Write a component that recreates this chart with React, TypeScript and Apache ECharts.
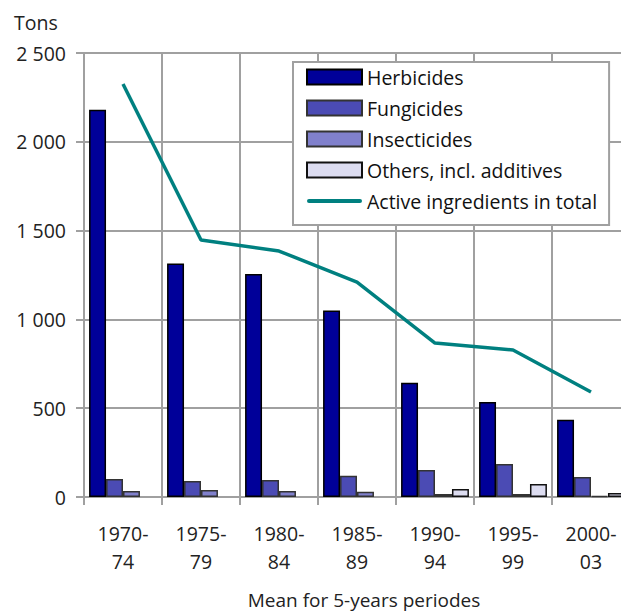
import React, { useEffect, useRef } from "react";
import * as echarts from "echarts";

const categories = ["1970-\n74", "1975-\n79", "1980-\n84", "1985-\n89", "1990-\n94", "1995-\n99", "2000-\n03"];
const herbicides = [2180, 1315, 1255, 1050, 643, 535, 435];
const fungicides = [101, 90, 96, 120, 152, 186, 113];
const insecticides = [34, 39, 34, 30, 17, 17, 5];
const others = [0, 0, 0, 0, 45, 73, 22];
const totals = [2325, 1447, 1385, 1210, 867, 828, 591];
const yTicks = [0, 500, 1000, 1500, 2000, 2500];

const FONT = "Open Sans";
const FS = 19.5;

function fmt(v: number): string {
  if (v >= 1000) {
    return `${Math.floor(v / 1000)} ${String(v % 1000).padStart(3, "0")}`;
  }
  return String(v);
}

const nz = (arr: number[]) => arr.map((v) => (v === 0 ? null : v));

export default function App() {
  const ref = useRef<HTMLDivElement>(null);
  useEffect(() => {
    if (!ref.current) return;
    const chart = echarts.init(ref.current, null, { renderer: "svg" });
    const barBase = {
      type: "bar" as const,
      barGap: "0%",
      barCategoryGap: "13%",
    };
    chart.setOption({
      animation: false,
      backgroundColor: "#ffffff",
      textStyle: { fontFamily: FONT },
      grid: { left: 84, top: 53, width: 546, height: 444, outerBoundsMode: "none" },
      legend: {
        orient: "vertical",
        left: 293,
        top: 62,
        padding: [4, 12, 13, 13],
        backgroundColor: "#ffffff",
        borderColor: "#a0a0a0",
        borderWidth: 2,
        itemWidth: 55,
        itemHeight: 15,
        itemGap: 9,
        icon: "rect",
        textStyle: { fontFamily: FONT, fontSize: FS, color: "#111", lineHeight: 22 },
        data: [
          { name: "Herbicides" },
          { name: "Fungicides" },
          { name: "Insecticides" },
          { name: "Others, incl. additives" },
          { name: "Active ingredients in total", icon: "path://M2,0 L53,0 A2,2 0 0 1 53,4 L2,4 A2,2 0 0 1 2,0 Z" },
        ],
      },
      xAxis: {
        type: "category",
        data: categories,
        boundaryGap: true,
        axisLine: { lineStyle: { color: "#a0a0a0", width: 2 } },
        axisTick: { show: true, length: 8, lineStyle: { color: "#a0a0a0", width: 2 } },
        splitLine: { show: true, lineStyle: { color: "#a0a0a0", width: 2 } },
        axisLabel: { fontFamily: FONT, fontSize: FS, color: "#222", lineHeight: 28, margin: 22 },
      },
      yAxis: {
        type: "value",
        min: 0,
        max: 2500,
        interval: 500,
        axisLine: { show: true, lineStyle: { color: "#a0a0a0", width: 2 } },
        axisTick: { show: true, length: 8, lineStyle: { color: "#a0a0a0", width: 2 } },
        splitLine: { show: true, lineStyle: { color: "#a0a0a0", width: 2 } },
        axisLabel: {
          fontFamily: FONT,
          fontSize: FS,
          color: "#222",
          margin: 18,
          formatter: (v: number) => (yTicks.includes(v) ? fmt(v) : ""),
        },
      },
      graphic: [
        { type: "text", x: 14, y: 22, style: { text: "Tons", fontFamily: FONT, fontSize: FS, fill: "#222", verticalAlign: "middle" } },
        {
          type: "text",
          x: 364,
          y: 600,
          style: { text: "Mean for 5-years periodes", fontFamily: FONT, fontSize: 19, fill: "#222", align: "center", verticalAlign: "middle" },
        },
      ],
      series: [
        { ...barBase, name: "Herbicides", data: nz(herbicides), itemStyle: { color: "#000099", borderColor: "#000", borderWidth: 1.5 } },
        { ...barBase, name: "Fungicides", data: nz(fungicides), itemStyle: { color: "#4b4bb4", borderColor: "#333", borderWidth: 1.5 } },
        { ...barBase, name: "Insecticides", data: nz(insecticides), itemStyle: { color: "#8080cc", borderColor: "#333", borderWidth: 1.5 } },
        { ...barBase, name: "Others, incl. additives", data: nz(others), itemStyle: { color: "#dcdcf0", borderColor: "#111", borderWidth: 1.5 } },
        {
          type: "line",
          name: "Active ingredients in total",
          data: totals,
          symbol: "none",
          lineStyle: { color: "#008080", width: 3.5 },
          itemStyle: { color: "#008080" },
        },
      ],
    });
    return () => chart.dispose();
  }, []);
  return <div ref={ref} style={{ position: "fixed", left: 0, top: 0, width: 621, height: 614 }} />;
}
